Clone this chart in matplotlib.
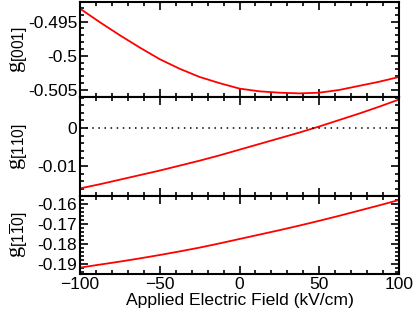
import numpy as np
import matplotlib.pyplot as plt
from matplotlib.ticker import MultipleLocator

plt.rcParams['font.family'] = ['Liberation Sans', 'DejaVu Sans']
plt.rcParams['mathtext.fontset'] = 'custom'
plt.rcParams['mathtext.rm'] = 'Liberation Sans'
plt.rcParams['mathtext.it'] = 'Liberation Serif'

# applied field (kV/cm)
field = [-100, -87.5, -75, -62.5, -50, -37.5, -25, -12.5, 0,
         12.5, 25, 37.5, 50, 62.5, 75, 87.5, 100]

# g-factor components
g_001 = [-0.4931, -0.4951, -0.4970, -0.4988, -0.5005, -0.5019, -0.5031, -0.5040, -0.5048,
         -0.5052, -0.5054, -0.5055, -0.5054, -0.5050, -0.5044, -0.5038, -0.5031]
g_110 = [-0.0159, -0.0148, -0.0136, -0.0124, -0.0112, -0.0099, -0.0086, -0.0072, -0.0057,
         -0.0042, -0.0027, -0.0012, 0.0004, 0.0021, 0.0038, 0.0056, 0.0075]
g_1m10 = [-0.1918, -0.1903, -0.1888, -0.1872, -0.1855, -0.1837, -0.1818, -0.1797, -0.1775,
          -0.1753, -0.1731, -0.1708, -0.1684, -0.1659, -0.1633, -0.1607, -0.1580]

fig = plt.figure(figsize=(4.15, 3.16), dpi=100)
left, right = 80 / 415, 399 / 415
edges = [1.5, 97, 196, 274]  # panel boundaries in pixels from top
axes = []
for i in range(3):
    top = 1 - edges[i] / 316
    bot = 1 - edges[i + 1] / 316
    axes.append(fig.add_axes([left, bot, right - left, top - bot]))
ax1, ax2, ax3 = axes

ax1.plot(field, g_001, color='red', lw=1.3)
ax1.set_ylim(-0.50603, -0.49206)
ax1.set_yticks([-0.495, -0.5, -0.505])
ax1.set_yticklabels(['-0.495', '-0.5', '-0.505'])
ax1.yaxis.set_minor_locator(MultipleLocator(0.001))
ax1.set_ylabel(r'$\mathit{g}_{[001]}$', fontsize=16)

ax2.plot(field, g_110, color='red', lw=1.3)
ax2.axhline(0, color='black', ls=(0, (1, 3)), lw=1.1)
ax2.set_ylim(-0.0179, 0.00816)
ax2.set_yticks([0, -0.01])
ax2.set_yticklabels(['0', '-0.01'])
ax2.yaxis.set_minor_locator(MultipleLocator(0.002))
ax2.set_ylabel(r'$\mathit{g}_{[110]}$', fontsize=16)

ax3.plot(field, g_1m10, color='red', lw=1.3)
ax3.set_ylim(-0.195, -0.156)
ax3.set_yticks([-0.16, -0.17, -0.18, -0.19])
ax3.set_yticklabels(['-0.16', '-0.17', '-0.18', '-0.19'])
ax3.yaxis.set_minor_locator(MultipleLocator(0.002))
ax3.set_ylabel(r'$\mathit{g}_{[1\overline{1}0]}$', fontsize=16)
ax3.set_xlabel('Applied Electric Field (kV/cm)', fontsize=12.6, labelpad=1)

for ax in axes:
    ax.set_xlim(-100, 100)
    ax.xaxis.set_major_locator(MultipleLocator(50))
    ax.xaxis.set_minor_locator(MultipleLocator(10))
    ax.tick_params(which='both', direction='in', top=True, right=True,
                   labelsize=12.5, width=1.2, pad=2)
    ax.tick_params(which='major', length=6)
    ax.tick_params(which='minor', length=3)
    for s in ax.spines.values():
        s.set_linewidth(1.5)
    ax.yaxis.set_label_coords(-0.16, 0.5)
ax1.tick_params(labelbottom=False)
ax2.tick_params(labelbottom=False)

fig.savefig('out.png', dpi=100)
